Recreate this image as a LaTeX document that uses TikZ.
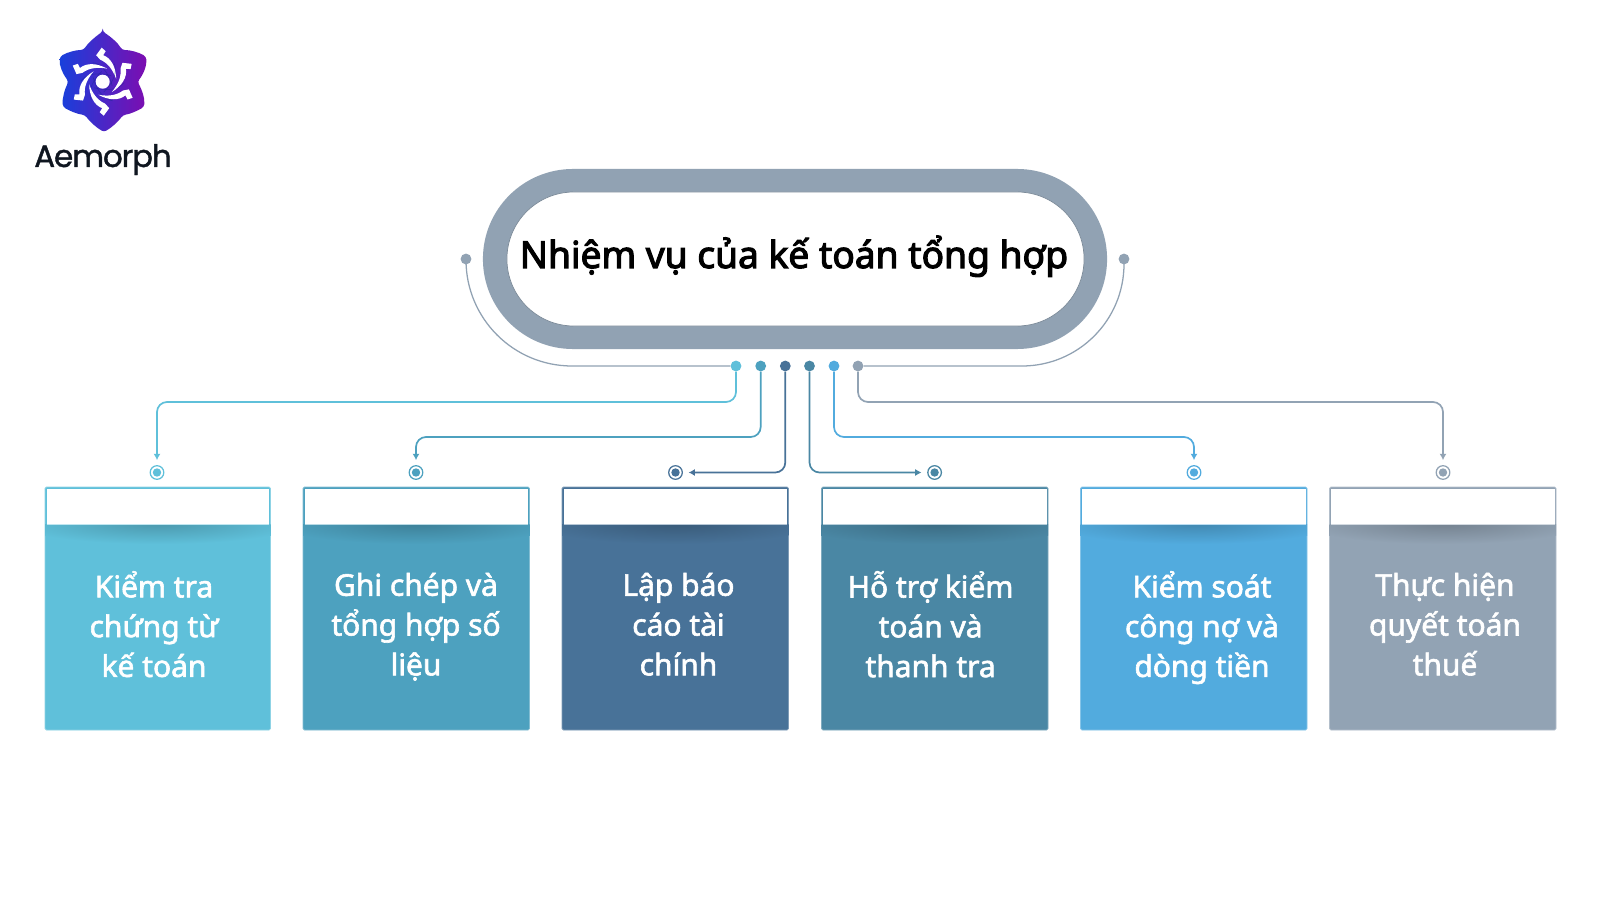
\documentclass[tikz,border=0pt]{standalone}
\usepackage{fontspec}
\setmainfont{Noto Sans}
\newfontfamily\titlefont{Noto Sans}[FakeBold=3]
\newfontfamily\semifont{Noto Sans}[FakeBold=2]
\newfontfamily\logofont{Poppins}[LetterSpace=-3.5,FakeBold=1.3]
\usetikzlibrary{positioning}
\usetikzlibrary{shapes.misc}
\usetikzlibrary{arrows.meta}
\definecolor{tealA}{HTML}{5FC0DA}
\definecolor{tealB}{HTML}{4DA1BF}
\definecolor{navyC}{HTML}{487298}
\definecolor{tealD}{HTML}{4A87A4}
\definecolor{skyE}{HTML}{52ABDE}
\definecolor{slateF}{HTML}{92A3B4}
\definecolor{pillgrey}{HTML}{91A2B3}
\definecolor{logoink}{HTML}{0F1620}
\definecolor{logoblue}{HTML}{1740DC}
\definecolor{logomid}{HTML}{3A39C6}
\definecolor{logopurple}{HTML}{7D0DB0}
\tikzset{
  topdot/.style={circle,fill=#1,inner sep=0pt,minimum size=0.27cm},
  target/.style={circle,draw=#1,line width=0.9pt,inner sep=0pt,minimum size=0.34cm,
    path picture={\fill[#1] (path picture bounding box.center) circle (0.105cm);}},
  link/.style={draw=#1,line width=1.2pt,rounded corners=0.25cm,-{Latex[length=4.5pt,width=5pt]}},
  sidelink/.style={draw=pillgrey,line width=0.9pt},
  cardtext/.style={text=white,align=center,font=\semifont\fontsize{21.3}{28.3}\selectfont,
    execute at begin node={\rule{0pt}{26pt}},execute at end node={\rule[-8pt]{0pt}{8pt}}},
  cardbody/.style={fill=#1,draw=#1!70!white,line width=0.6pt,rounded corners=1pt},
}
\newcommand{\cardtop}[3]{%
  \begin{scope}
  \clip (#1,524) rectangle (#2,730);
  \shade[inner color=#3!80!black,outer color=#3] ({(#1+#2)/2},524) ellipse (140 and 20);
  \end{scope}
  \fill[white] (#1+1.5,488.5) rectangle (#2-1.5,524);
  \draw[white!60!#3,line width=0.5pt] (#1+1.5,524) -- (#2-1.5,524);
}
\begin{document}
\begin{tikzpicture}[x=0.025cm,y=-0.025cm]
\useasboundingbox (0,0) rectangle (1600,899);
\fill[white] (0,0) rectangle (1600,899);

% logo
\shade[left color=logoblue,middle color=logomid,right color=logopurple,rounded corners=2pt]
  (102.7,31.5) .. controls (111,37) and (118,43) .. (122,50)
  .. controls (130,50) and (138,52) .. (146,56.5) .. controls (147,66) and (143,75) .. (137.5,81.5)
  .. controls (142,90) and (145,98) .. (144,107) .. controls (137,111) and (130,114) .. (123,115)
  .. controls (118,122) and (111,128) .. (104,132) .. controls (97,128) and (90,122) .. (85,115)
  .. controls (77,114) and (70,111) .. (63,107) .. controls (62,98) and (65,89) .. (68.5,81.5)
  .. controls (63,74) and (59,66) .. (60,56.5) .. controls (68,52) and (76,50) .. (83.5,50)
  .. controls (88,43) and (95,37) .. cycle;
\foreach \turn in {0,60,...,300}{
  \fill[white,rotate around={\turn:(102.7,81.7)}]
    (96.2,55.2) -- (101.7,47.7) -- (105.7,51.2) -- (103.2,55.2) .. controls (111,58) and (116,67) .. (116.2,79)
    .. controls (113,70) and (108,63) .. (100.2,59.7) -- cycle;
  \draw[logoblue!60!black,opacity=0.35,line width=0.5pt,rotate around={\turn:(102.7,81.7)}]
    (92.7,62.7) .. controls (99,63) and (108,70) .. (112.2,86);
}
\fill[white] (102.7,81.7) circle (7);
\node[anchor=base,font=\logofont\fontsize{22}{22}\selectfont,text=logoink] (brand) at (103,167) {Aemorph};

% title pill
\node[rounded rectangle,fill=pillgrey,inner sep=0pt,minimum width=15.6cm,minimum height=4.5cm] (pill) at (795,259) {};
\node[rounded rectangle,fill=white,draw=pillgrey!85!black,line width=0.5pt,inner sep=0pt,minimum width=14.425cm,minimum height=3.35cm] (pillin) at (795.5,259) {};
\node[anchor=base,font=\titlefont\fontsize{26.4}{30}\selectfont,text=black] (title) at (794,268) {Nhiệm vụ của kế toán tổng hợp};

% dots under the pill
\node[topdot=pillgrey] (sideL) at (466,259) {};
\node[topdot=pillgrey] (sideR) at (1124,259) {};
\node[topdot=tealA] (dotA) at (736,366) {};
\node[topdot=tealB] (dotB) at (760.7,366) {};
\node[topdot=navyC] (dotC) at (785.3,366) {};
\node[topdot=tealD] (dotD) at (809.5,366) {};
\node[topdot=skyE] (dotE) at (834,366) {};
\node[topdot=pillgrey] (dotF) at (858,366) {};
\draw[sidelink,rounded corners=2.65cm] (sideL) |- (dotA);
\draw[sidelink,rounded corners=2.55cm] (dotF) -| (sideR);

% targets over the cards
\node[target=tealA] (ringA) at (157,472.5) {};
\node[target=tealB] (ringB) at (416,472.5) {};
\node[target=navyC] (ringC) at (675.5,472.5) {};
\node[target=tealD] (ringD) at (934.6,472.5) {};
\node[target=skyE] (ringE) at (1194,472.5) {};
\node[target=slateF] (ringF) at (1443,472.5) {};
\coordinate (midA) at (450,402);
\coordinate (midB) at (590,437);
\coordinate (midE) at (1000,437);
\coordinate (midF) at (1150,402);
\draw[link=tealA,shorten >=3.5pt] (dotA) |- (midA) -| (ringA);
\draw[link=tealB,shorten >=3.5pt] (dotB) |- (midB) -| (ringB);
\draw[link=navyC,shorten >=4pt] (dotC) |- (ringC);
\draw[link=tealD,shorten >=4pt] (dotD) |- (ringD);
\draw[link=skyE,shorten >=3.5pt] (dotE) |- (midE) -| (ringE);
\draw[link=slateF,shorten >=3.5pt] (dotF) |- (midF) -| (ringF);

% cards
\draw[cardbody=tealA] (45,487) rectangle (270.5,730);
\cardtop{45}{270.5}{tealA}
\draw[cardbody=tealB] (303,487) rectangle (529.5,730);
\cardtop{303}{529.5}{tealB}
\draw[cardbody=navyC] (562,487) rectangle (788.5,730);
\cardtop{562}{788.5}{navyC}
\draw[cardbody=tealD] (821.5,487) rectangle (1048,730);
\cardtop{821.5}{1048}{tealD}
\draw[cardbody=skyE] (1080.5,487) rectangle (1307,730);
\cardtop{1080.5}{1307}{skyE}
\draw[cardbody=slateF] (1329.5,487) rectangle (1556,730);
\cardtop{1329.5}{1556}{slateF}

\node[cardtext] (textA) at (154,629.7) {Kiểm tra\\chứng từ\\kế toán};
\node[cardtext] (textB) at (416,629.7) {Ghi chép và\\tổng hợp số\\liệu};
\node[cardtext] (textC) at (678.5,629.7) {Lập báo\\cáo tài\\chính};
\node[cardtext] (textD) at (930.6,629.7) {Hỗ trợ kiểm\\toán và\\thanh tra};
\node[cardtext] (textE) at (1202,629.7) {Kiểm soát\\công nợ và\\dòng tiền};
\node[cardtext] (textF) at (1445,629.7) {Thực hiện\\quyết toán\\thuế};
\end{tikzpicture}
\end{document}
